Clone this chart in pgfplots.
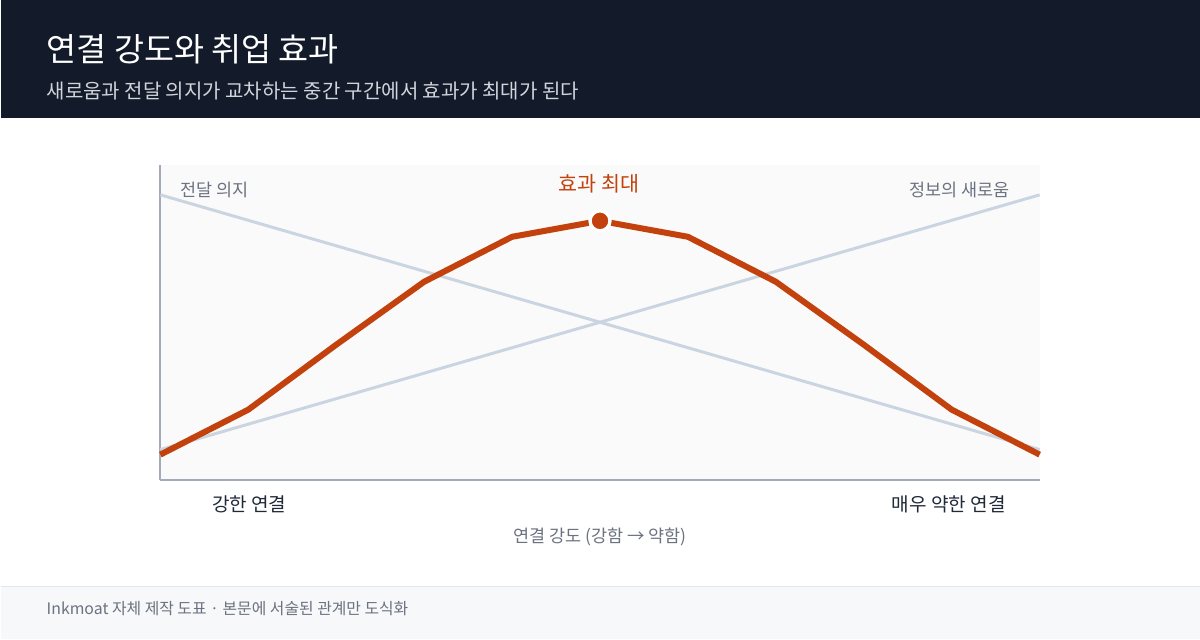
\documentclass[border=0pt]{standalone}
\usepackage{fontspec}
\setmainfont{Noto Sans CJK KR}
\usepackage{pgfplots}
\pgfplotsset{compat=1.18}
\definecolor{headbg}{HTML}{131A2A}
\definecolor{subtxt}{HTML}{D1D5DB}
\definecolor{plotbg}{HTML}{FAFAFA}
\definecolor{axgray}{HTML}{A3ABB8}
\definecolor{linegray}{HTML}{CBD5E1}
\definecolor{orange}{HTML}{C2410C}
\definecolor{labgray}{HTML}{6B7280}
\definecolor{darktxt}{HTML}{1F2937}
\definecolor{footbg}{HTML}{F7F8FA}
\definecolor{footline}{HTML}{E5E7EB}
\begin{document}
\begin{tikzpicture}[x=0.75pt,y=0.75pt]
\fill[white] (0,0) rectangle (1200,640);
\fill[headbg] (0,522) rectangle (1200,640);
\fill[footbg] (0,0) rectangle (1200,53);
\draw[footline, line width=0.75pt] (0,53) -- (1200,53);
\coordinate (orig) at (160,160);
\node[anchor=base west, inner sep=0, text=white, font=\fontsize{24.5pt}{28pt}\selectfont] at (46,578) {연결 강도와 취업 효과};
\node[anchor=base west, inner sep=0, text=subtxt, font=\fontsize{15pt}{18pt}\selectfont] at (46,541) {새로움과 전달 의지가 교차하는 중간 구간에서 효과가 최대가 된다};
\node[anchor=base west, inner sep=0, text=labgray, font=\fontsize{11.9pt}{14pt}\selectfont] at (46,25) {Inkmoat 자체 제작 도표 · 본문에 서술된 관계만 도식화};
\begin{axis}[
  at={(orig)}, anchor=south west,
  scale only axis, width=660pt, height=236.25pt,
  xmin=0, xmax=10, ymin=0, ymax=315,
  axis x line=bottom, axis y line=left,
  axis line style={draw=axgray, line width=1.5pt, -},
  ticks=none,
  axis background/.style={fill=plotbg},
  clip=false,
]
\addplot[linegray, line width=2.25pt] coordinates {(0,285) (10,30)};
\addplot[linegray, line width=2.25pt] coordinates {(0,30) (10,285)};
\addplot[orange, line width=4.5pt, line join=round] coordinates {
(0,25) (1,70) (2,135) (3,198) (4,243) (5,259) (6,243) (7,198) (8,135) (9,70) (10,25)};
\addplot[only marks, mark=*, mark size=7.5pt, mark options={fill=orange, draw=white, line width=2.5pt}] coordinates {(5,259)};
\end{axis}
\node[anchor=base west, inner sep=0, text=labgray, font=\fontsize{13.1pt}{15pt}\selectfont] at (180,443) {전달 의지};
\node[anchor=base east, inner sep=0, text=labgray, font=\fontsize{13.1pt}{15pt}\selectfont] at (1010,443) {정보의 새로움};
\node[anchor=base, inner sep=0, text=orange, font=\fontsize{15.5pt}{18pt}\selectfont] at (599,448) {효과 최대};
\node[anchor=base, inner sep=0, text=darktxt, font=\fontsize{14.3pt}{17pt}\selectfont] at (249,128) {강한 연결};
\node[anchor=base, inner sep=0, text=darktxt, font=\fontsize{14.3pt}{17pt}\selectfont] at (949,128) {매우 약한 연결};
\node[anchor=base, inner sep=0, text=labgray, font=\fontsize{13.1pt}{15pt}\selectfont] at (600,97) {연결 강도 (강함 → 약함)};
\end{tikzpicture}
\end{document}
